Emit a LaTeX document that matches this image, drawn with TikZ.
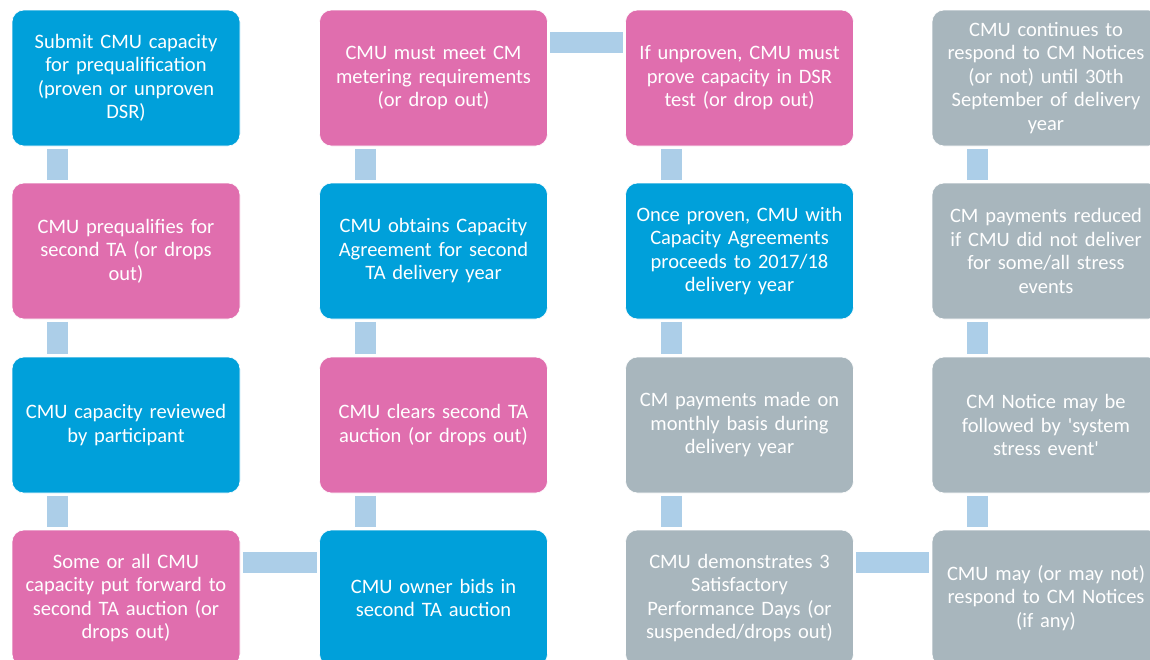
\documentclass[tikz,border=0pt]{standalone}
\usepackage{fontspec}
\setmainfont{Carlito}
\usepackage{tikz}

\definecolor{cmublue}{RGB}{0,160,218}
\definecolor{cmupink}{RGB}{224,110,174}
\definecolor{cmugrey}{RGB}{168,182,189}
\definecolor{cmulink}{RGB}{172,206,232}

\begin{document}
\begin{tikzpicture}[x=1pt, y=-1pt,
    every node/.style={font=\fontsize{20.5}{23.5}\selectfont, text=white, align=center},
    stage/.style={rounded corners=12pt, draw=white, line width=.6pt,
                  minimum width=228pt, minimum height=136pt, text width=224pt, inner sep=0pt},
    blue/.style={stage, fill=cmublue},
    pink/.style={stage, fill=cmupink},
    grey/.style={stage, fill=cmugrey},
    link/.style={draw=cmulink, line width=21pt, shorten <=2.5pt, shorten >=2.5pt}]
\useasboundingbox (0,0) rectangle (1150,659);
\clip (0,0) rectangle (1150,659);

% first column, top to bottom
\node[blue] (s1) at (126,78)  {Submit CMU capacity\\for prequalification\\(proven or unproven\\DSR)};
\node[pink] (s2) at (126,251) {CMU prequalifies for\\second TA (or drops\\out)};
\node[blue] (s3) at (126,425) {CMU capacity reviewed\\by participant};
\node[pink] (s4) at (126,598) {Some or all CMU\\capacity put forward to\\second TA auction (or\\drops out)};
% second column, bottom to top
\node[blue] (s5) at (433.5,598) {CMU owner bids in\\second TA auction};
\node[pink] (s6) at (433.5,425) {CMU clears second TA\\auction (or drops out)};
\node[blue] (s7) at (433.5,251) {CMU obtains Capacity\\Agreement for second\\TA delivery year};
\node[pink] (s8) at (433.5,78)  {CMU must meet CM\\metering requirements\\(or drop out)};
% third column, top to bottom
\node[pink] (s9)  at (739.5,78)  {If unproven, CMU must\\prove capacity in DSR\\test (or drop out)};
\node[blue] (s10) at (739.5,251) {Once proven, CMU with\\Capacity Agreements\\proceeds to 2017/18\\delivery year};
\node[grey] (s11) at (739.5,425) {CM payments made on\\monthly basis during\\delivery year};
\node[grey] (s12) at (739.5,598) {CMU demonstrates 3\\Satisfactory\\Performance Days (or\\suspended/drops out)};
% fourth column, bottom to top
\node[grey] (s13) at (1046,598) {CMU may (or may not)\\respond to CM Notices\\(if any)};
\node[grey] (s14) at (1046,425) {CM Notice may be\\followed by \textquotesingle system\\stress event\textquotesingle};
\node[grey] (s15) at (1046,251) {CM payments reduced\\if CMU did not deliver\\for some/all stress\\events};
\node[grey] (s16) at (1046,78)  {CMU continues to\\respond to CM Notices\\(or not) until 30th\\September of delivery\\year};

% links down the columns
\foreach \a/\b in {s1/s2,s2/s3,s3/s4, s8/s7,s7/s6,s6/s5, s9/s10,s10/s11,s11/s12, s16/s15,s15/s14,s14/s13}
  \draw[link] ([xshift=46pt]\a.south west) -- ([xshift=46pt]\b.north west);
% links across
\foreach \a/\b in {s4/s5, s8/s9, s12/s13}
  \draw[link] ([yshift=-33pt]\a.north east) -- ([yshift=-33pt]\b.north west);
\end{tikzpicture}
\end{document}
